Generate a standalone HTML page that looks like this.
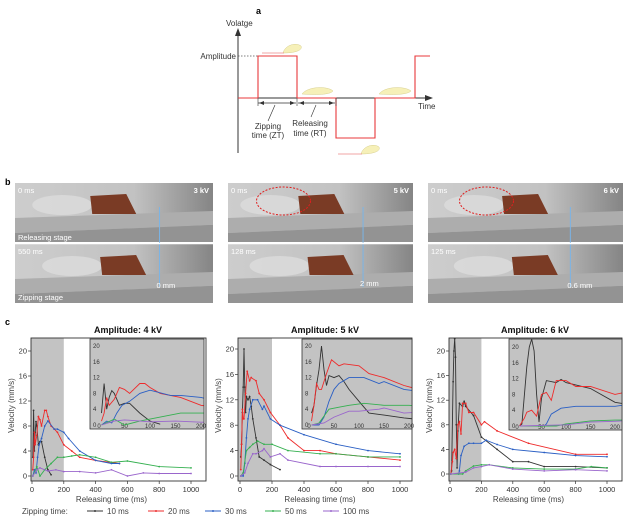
<!DOCTYPE html>
<html><head><meta charset="utf-8"><style>
html,body{margin:0;padding:0;background:#fff;}
svg{display:block;font-family:"Liberation Sans",sans-serif;}
</style></head><body>
<svg id="fig" width="640" height="521" viewBox="0 0 640 521" xmlns="http://www.w3.org/2000/svg">
<defs>
<linearGradient id="ph" x1="0" y1="0" x2="1" y2="0">
<stop offset="0" stop-color="#cdcdcd"/><stop offset="0.6" stop-color="#c2c2c2"/><stop offset="1" stop-color="#858585"/>
</linearGradient>
</defs>
<!-- Panel a -->
<g>
<text x="256" y="14" font-size="9" font-weight="bold">a</text>
<line x1="238" y1="153" x2="238" y2="32" stroke="#333" stroke-width="1"/>
<polygon points="238,28 235,36 241,36" fill="#333"/>
<text x="226" y="26" font-size="8" fill="#333">Volatge</text>
<line x1="238" y1="98" x2="430" y2="98" stroke="#333" stroke-width="1"/>
<polygon points="433,98 425,95 425,101" fill="#333"/>
<text x="418" y="109" font-size="8" fill="#333">Time</text>
<line x1="238" y1="56" x2="258" y2="56" stroke="#555" stroke-width="0.7" stroke-dasharray="1.5,1.5"/>
<text x="236" y="59" font-size="8" fill="#333" text-anchor="end">Amplitude</text>
<polyline points="238,98 258,98 258,56 297,56 297,98 336,98 336,138 375,138 375,98 415,98 415,56 430,56" fill="none" stroke="#e8383b" stroke-width="1.1"/>
<line x1="258" y1="103" x2="296" y2="103" stroke="#333" stroke-width="0.8"/>
<polygon points="259,103 264,101 264,105" fill="#333"/><polygon points="295,103 290,101 290,105" fill="#333"/>
<line x1="298" y1="103" x2="335" y2="103" stroke="#333" stroke-width="0.8"/>
<polygon points="299,103 304,101 304,105" fill="#333"/><polygon points="334,103 329,101 329,105" fill="#333"/>
<line x1="258" y1="98" x2="258" y2="106" stroke="#333" stroke-width="0.6"/>
<line x1="297" y1="98" x2="297" y2="106" stroke="#333" stroke-width="0.6"/>
<line x1="336" y1="98" x2="336" y2="106" stroke="#333" stroke-width="0.6"/>
<line x1="275" y1="105" x2="268" y2="121" stroke="#333" stroke-width="0.6"/>
<line x1="316" y1="105" x2="311" y2="117" stroke="#333" stroke-width="0.6"/>
<text x="268" y="129" font-size="8" fill="#333" text-anchor="middle">Zipping</text>
<text x="268" y="138" font-size="8" fill="#333" text-anchor="middle">time (ZT)</text>
<text x="310" y="126" font-size="8" fill="#333" text-anchor="middle">Releasing</text>
<text x="310" y="136" font-size="8" fill="#333" text-anchor="middle">time (RT)</text>
<g fill="#f6f0b8" stroke="#d8d090" stroke-width="0.5">
<path d="M283,53 C285,45 296,42 301,46 C303,50 296,53 283,53Z"/>
<path d="M302,94 C308,86 328,86 333,91 C330,95 315,95 302,94Z"/>
<path d="M379,94 C385,86 405,86 411,91 C407,95 392,95 379,94Z"/>
<path d="M361,154 C363,146 374,143 379,147 C381,151 374,154 361,154Z"/>
</g>
<line x1="262" y1="53" x2="284" y2="53" stroke="#e88" stroke-width="0.8"/>
<line x1="338" y1="154" x2="362" y2="154" stroke="#e88" stroke-width="0.8"/>
</g>
<!-- Panel b -->
<g>
<text x="5" y="185" font-size="9" font-weight="bold">b</text>
<g id="photos"></g>
</g>
<!-- Panel c -->
<g>
<text x="5" y="325" font-size="9" font-weight="bold">c</text>
<g id="charts"></g>
<g>
<text x="22" y="514" font-size="8" fill="#444">Zipping time:</text>
<g id="legend"></g>
</g>
</g>
</svg>
<script>
// ---------- chart data ----------
const seriesNames = ["10 ms","20 ms","30 ms","50 ms","100 ms"];
const seriesColors = ["#333333","#ee2b2b","#2a5fc4","#35b050","#9a66cc"];
const amplitudes = ["Amplitude: 4 kV","Amplitude: 5 kV","Amplitude: 6 kV"];
const mainXTicks = [0,200,400,600,800,1000];
const mainYTicks = [0,4,8,12,16,20];
const insetXTicks = [0,50,100,150,200];
const insetYTicks = [0,4,8,12,16,20];
// 4 kV
const t4_10 = [5,10,15,20,25,30,40,50,60,80,100,120];
const v4_10 = [3,10.5,4,7,8.7,8,5,5.5,5.5,3,1,0.2];
const t4_20 = [5,10,15,20,30,40,50,60,80,90,100,120,140,160,200,250,300,400,550];
const v4_20 = [1,3,7,5,6.5,9.5,9,8,10.5,10.5,9.5,8,7.5,7,5,4,3,2.5,2];
const t4_30 = [5,15,25,35,45,60,80,100,140,160,200,230,300,400,500,550];
const v4_30 = [0,1,0.5,3,5,6,8,8.8,7.5,7.5,7,6,4,2.5,2,2];
const t4_50 = [5,30,50,80,120,160,200,250,300,400,500,600,800,1000];
const v4_50 = [0,1.5,0,1,2,3,3,3.2,3.4,3,2.2,2.4,1.5,1.3];
const t4_100 = [5,30,50,100,150,200,300,400,500,600,700,800,1000];
const v4_100 = [0,1,1.3,0.8,1,0.7,0.7,0.5,1,0,0.5,0.4,0.4];
// 5 kV
const t5_10 = [5,10,15,20,25,30,35,40,50,60,70,80,100,120,150,190,250];
const v5_10 = [3,5,10,14,20,14,10,12.5,12,12.5,11,9,6,3,2.5,1.8,1];
const t5_20 = [5,10,15,20,25,35,45,60,70,100,120,150,190,250,300,400,500,600,800,1000];
const v5_20 = [1,5,10.5,9,9,13,16.5,15,15.5,15,13,12,10,8,6,4,4,3.5,3,2.5];
const t5_30 = [5,20,30,40,50,60,80,110,140,150,190,250,400,600,800,1000];
const v5_30 = [0,0,2,6,9,10.5,12,12,10.5,11,9,8,6.5,5,4,3.5];
const t5_50 = [5,20,40,60,80,110,150,200,300,500,600,800,1000];
const v5_50 = [0,0.5,4,4.5,5,5.5,5,5,4,3.5,3.5,3,3];
const t5_100 = [5,30,50,80,100,140,150,190,250,300,500,600,800,1000];
const v5_100 = [0,0.5,2,3.5,3.5,4,4.3,3,3.5,2.5,1.5,1.5,1.5,1.5];
// 6 kV
const t6_10 = [5,10,20,25,30,35,40,45,50,60,80,90,100,150,200,300,400,500,600,800,1000];
const v6_10 = [0,0.5,15,20,22,19,8,1,7,11.5,11,11.8,11,9.5,6,4,2,2,1.2,1.2,1];
const t6_20 = [5,15,20,30,40,50,60,70,80,100,120,150,200,220,300,500,800,1000];
const v6_20 = [0,2,3.5,4,2.5,8,8.5,6.5,11.5,11.5,10,10,8,8.5,7,5,3.2,3.2];
const t6_30 = [5,55,60,70,90,120,150,200,230,300,400,600,800,1000];
const v6_30 = [0,0,0.5,3,4.5,5,5,5,5.5,4.8,4,3.5,3,2.8];
const t6_50 = [5,80,100,150,200,250,400,600,800,900,1000];
const v6_50 = [0,0,0.5,1.3,1.5,1.5,1,0.8,0.8,1.2,1];
const t6_100 = [5,100,150,200,250,400,600,800,1000];
const v6_100 = [0,0.3,1,1.2,1.5,0.8,0.5,0.7,0.5];

const chartTimes = [[t4_10,t4_20,t4_30,t4_50,t4_100],[t5_10,t5_20,t5_30,t5_50,t5_100],[t6_10,t6_20,t6_30,t6_50,t6_100]];
const chartVals = [[v4_10,v4_20,v4_30,v4_50,v4_100],[v5_10,v5_20,v5_30,v5_50,v5_100],[v6_10,v6_20,v6_30,v6_50,v6_100]];

const NS="http://www.w3.org/2000/svg";
function mk(tag,attrs,parent){const e=document.createElementNS(NS,tag);for(const k in attrs)e.setAttribute(k,attrs[k]);if(parent)parent.appendChild(e);return e;}

const layouts=[
 {fx:31,fy:338,fw:175,fh:143,x0:32,x1:191,y0:476,y20:351,ix:90,iy:339,iw:114,ih:90,ix0:99,ix200:201,iy0:425,iy20:346,tx:128},
 {fx:238,fy:338,fw:174,fh:143,x0:240,x1:400,y0:476,y20:349,ix:302,iy:339,iw:110,ih:90,ix0:309,ix200:409,iy0:425,iy20:346,tx:325},
 {fx:449,fy:338,fw:173,fh:143,x0:450,x1:607,y0:474,y20:351,ix:509,iy:339,iw:113,ih:91,ix0:517,ix200:615,iy0:426,iy20:347,tx:535}
];
const charts=document.getElementById('charts');
layouts.forEach((L,ci)=>{
 const g=mk('g',{},charts);
 
 
 const xs=v=>L.x0+(L.x1-L.x0)*v/1000;
 const ys=v=>L.y0+(L.y20-L.y0)*v/20;
 const ixs=v=>L.ix0+(L.ix200-L.ix0)*v/200;
 const iys=v=>L.iy0+(L.iy20-L.iy0)*v/20;
 const t=mk('text',{x:L.tx,y:333,'font-size':9,'font-weight':'bold','text-anchor':'middle',fill:'#111'},g);t.textContent=amplitudes[ci];
 
 
 const cid='clip'+ci;
 const cp=mk('clipPath',{id:cid},g);mk('rect',{x:L.fx,y:L.fy,width:L.fw,height:L.fh},cp);
 const shade=mk('rect',{x:L.fx,y:L.fy,width:xs(200)-L.fx,height:L.fh,fill:'#c3c3c3'},g);
 
 
 mainXTicks.forEach(v=>{mk('line',{x1:xs(v),y1:L.fy+L.fh,x2:xs(v),y2:L.fy+L.fh+3,stroke:'#333','stroke-width':0.7},g);
  const tt=mk('text',{x:xs(v),y:L.fy+L.fh+11,'font-size':7.5,'text-anchor':'middle',fill:'#333'},g);tt.textContent=v;
  
  });
 mainYTicks.forEach(v=>{mk('line',{x1:L.fx-3,y1:ys(v),x2:L.fx,y2:ys(v),stroke:'#333','stroke-width':0.7},g);
  const tt=mk('text',{x:L.fx-4,y:ys(v)+2.5,'font-size':7.5,'text-anchor':'end',fill:'#333'},g);tt.textContent=v;
  
  });
 const xl=mk('text',{x:(L.x0+L.x1)/2,y:502,'font-size':8,'text-anchor':'middle',fill:'#444'},g);xl.textContent='Releasing time (ms)';
 
 
 const yl=mk('text',{x:0,y:0,'font-size':8,'text-anchor':'middle',fill:'#444',transform:`translate(${L.fx-17},${L.fy+L.fh/2-4}) rotate(-90)`},g);yl.textContent='Velocity (mm/s)';
 
 
 const sg=mk('g',{'clip-path':`url(#${cid})`},g);
 chartTimes[ci].forEach((ts,si)=>{
  const vs=chartVals[ci][si];
  const pts=ts.map((tv,i)=>xs(tv).toFixed(1)+','+ys(vs[i]).toFixed(1)).join(' ');
  const pl=mk('polyline',{points:pts,fill:'none',stroke:seriesColors[si],'stroke-width':0.9},sg);
  
  
  ts.forEach((tv,i)=>{mk('circle',{cx:xs(tv),cy:ys(vs[i]),r:0.9,fill:seriesColors[si]},sg);});
 });
 mk('rect',{x:L.fx,y:L.fy,width:L.fw,height:L.fh,fill:'none',stroke:'#333','stroke-width':0.9},g);
 const ig=mk('g',{},g);
 
 
 const icid='iclip'+ci;
 const icp=mk('clipPath',{id:icid},ig);mk('rect',{x:L.ix,y:L.iy,width:L.iw,height:L.ih},icp);
 mk('rect',{x:L.ix,y:L.iy,width:L.iw,height:L.ih,fill:'#c3c3c3'},ig);
 insetXTicks.forEach(v=>{const tt=mk('text',{x:ixs(v),y:L.iy+L.ih-1,'font-size':6,'text-anchor':'middle',fill:'#333'},ig);tt.textContent=v;
  
  });
 insetYTicks.forEach(v=>{const tt=mk('text',{x:L.ix+3,y:iys(v)+2,'font-size':6,fill:'#333'},ig);tt.textContent=v;
  
  });
 const isg=mk('g',{'clip-path':`url(#${icid})`},ig);
 chartTimes[ci].forEach((ts,si)=>{
  const vs=chartVals[ci][si];
  const idx=[];ts.forEach((tv,i)=>{if(tv<=200)idx.push(i);});
  if(idx.length<ts.length)idx.push(idx.length);
  const pts=idx.map(i=>ixs(ts[i]).toFixed(1)+','+iys(vs[i]).toFixed(1)).join(' ');
  const pl=mk('polyline',{points:pts,fill:'none',stroke:seriesColors[si],'stroke-width':0.9},isg);
  
  
 });
 mk('rect',{x:L.ix,y:L.iy,width:L.iw,height:L.ih,fill:'none',stroke:'#333','stroke-width':0.8},ig);
});
const legendX=[87,148,205,265,323];
const lg=document.getElementById('legend');
seriesNames.forEach((n,i)=>{
 const e=mk('g',{},lg);
 
 
 mk('line',{x1:legendX[i],y1:511,x2:legendX[i]+16,y2:511,stroke:seriesColors[i],'stroke-width':1},e);
 mk('circle',{cx:legendX[i]+8,cy:511,r:1,fill:seriesColors[i]},e);
 const tt=mk('text',{x:legendX[i]+20,y:514,'font-size':8,fill:'#444'},e);tt.textContent=n;
});
const photos=[
 {x:15,w:198,kv:'3 kV',t0:'0 ms',t1:'550 ms',d:'0 mm',ell:false,s1:'Releasing stage',s2:'Zipping stage'},
 {x:228,w:185,kv:'5 kV',t0:'0 ms',t1:'128 ms',d:'2 mm',ell:true,s1:'',s2:''},
 {x:428,w:195,kv:'6 kV',t0:'0 ms',t1:'125 ms',d:'0.6 mm',ell:true,s1:'',s2:''}
];
const pg=document.getElementById('photos');
photos.forEach((p,i)=>{
 const g=mk('g',{},pg);
 
 
 [183,244].forEach((y,j)=>{
  mk('rect',{x:p.x,y:y,width:p.w,height:59,fill:'url(#ph)'},g);
  mk('polygon',{points:`${p.x},${y+35} ${p.x+p.w},${y+28} ${p.x+p.w},${y+42} ${p.x},${y+50}`,fill:'#adadad'},g);
  mk('polygon',{points:`${p.x},${y+50} ${p.x+p.w},${y+42} ${p.x+p.w},${y+59} ${p.x},${y+59}`,fill:'#939393'},g);
  const bx=p.x+p.w*0.38+(j?p.w*0.05:0);
  mk('ellipse',{cx:bx-28,cy:y+22,rx:30,ry:10,fill:'#dcdcdc',opacity:0.8},g);
  mk('polygon',{points:`${bx},${y+13} ${bx+36},${y+11} ${bx+46},${y+31} ${bx+2},${y+31}`,fill:'#7a3b25'},g);
 });
 const lx=p.x+p.w*0.73;
 mk('line',{x1:lx,y1:207,x2:lx,y2:287,stroke:'#7ab4e6','stroke-width':1},g);
 mk('line',{x1:p.x,y1:243.5,x2:p.x+p.w,y2:243.5,stroke:'#fff','stroke-width':1.5},g);
 if(p.ell)mk('ellipse',{cx:p.x+p.w*0.3,cy:201,rx:27,ry:14,fill:'none',stroke:'#e02020','stroke-width':1,'stroke-dasharray':'2,1.5'},g);
 const txt=(s,x,y,anc,bold)=>{const t=mk('text',{x:x,y:y,'font-size':7.5,fill:'#fff','text-anchor':anc||'start','font-weight':bold?'bold':'normal'},g);t.textContent=s;return t;};
 txt(p.t0,p.x+3,193);txt(p.kv,p.x+p.w-4,193,'end',true);txt(p.t1,p.x+3,254);
 txt(p.d,lx-3,p.d==='2 mm'?286:288);
 if(p.s1){txt(p.s1,p.x+3,240);txt(p.s2,p.x+3,300);}
});
</script>
</body></html>
